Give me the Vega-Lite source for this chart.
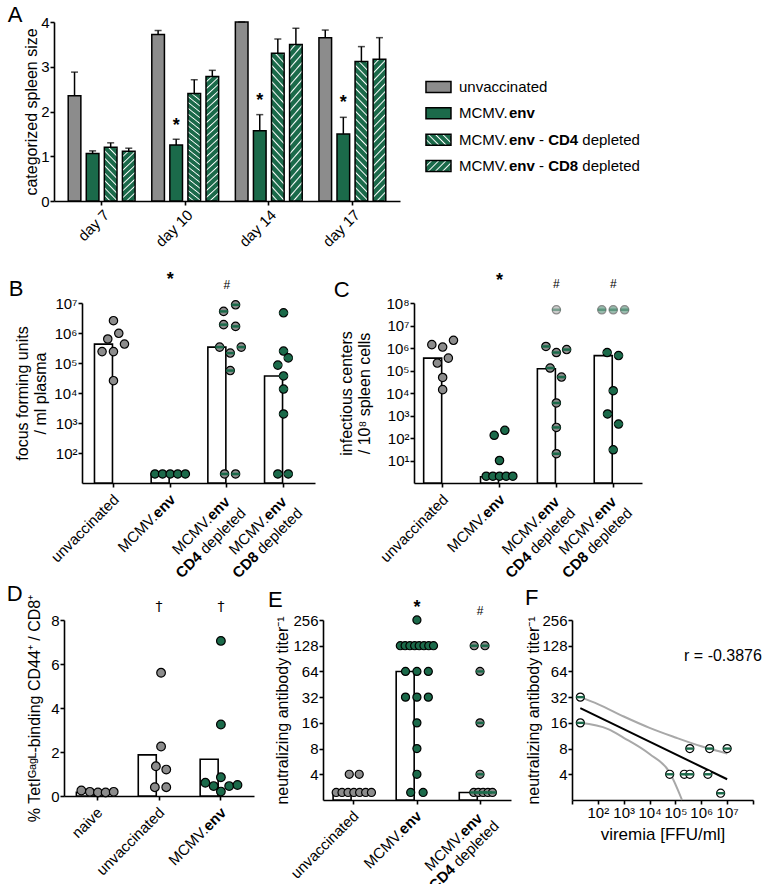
{
"$schema":"https://vega.github.io/schema/vega-lite/v6.json",
"background":"white",
"padding":{"left":0,"top":4,"right":0,"bottom":0},
"config":{"font":"Liberation Sans","view":{"stroke":null},
"axis":{"grid":false,"domainColor":"#000","domainWidth":1.6,"tickColor":"#000","tickWidth":1.6,"tickSize":4,"labelFontSize":15,"labelColor":"#000","titleFontSize":16,"titleFontWeight":"normal","titleColor":"#000","labelFont":"Liberation Sans","titleFont":"Liberation Sans","labelPadding":1,"titlePadding":6},
"title":{"fontSize":22,"fontWeight":"normal","anchor":"start","font":"Liberation Sans","color":"#000","frame":"bounds","offset":-4},
"text":{"font":"Liberation Sans","color":"#000"},
"point":{"opacity":1}},
"datasets":{
"spacer":[{"k":1}],
"aBars":[
{"day":"day 7","grp":"unvaccinated","m":2.35,"hi":2.88},{"day":"day 7","grp":"MCMV.env","m":1.06,"hi":1.12},{"day":"day 7","grp":"CD4","m":1.2,"hi":1.3},{"day":"day 7","grp":"CD8","m":1.11,"hi":1.18},
{"day":"day 10","grp":"unvaccinated","m":3.72,"hi":3.81},{"day":"day 10","grp":"MCMV.env","m":1.25,"hi":1.38},{"day":"day 10","grp":"CD4","m":2.4,"hi":2.71},{"day":"day 10","grp":"CD8","m":2.78,"hi":2.92},
{"day":"day 14","grp":"unvaccinated","m":4.0,"hi":4.0},{"day":"day 14","grp":"MCMV.env","m":1.57,"hi":1.93},{"day":"day 14","grp":"CD4","m":3.3,"hi":3.62},{"day":"day 14","grp":"CD8","m":3.5,"hi":3.86},
{"day":"day 17","grp":"unvaccinated","m":3.65,"hi":3.82},{"day":"day 17","grp":"MCMV.env","m":1.5,"hi":1.87},{"day":"day 17","grp":"CD4","m":3.12,"hi":3.45},{"day":"day 17","grp":"CD8","m":3.17,"hi":3.65}],
"aSig":[{"day":"day 10","grp":"MCMV.env","v":1.68,"t":"*"},{"day":"day 14","grp":"MCMV.env","v":2.24,"t":"*"},{"day":"day 17","grp":"MCMV.env","v":2.19,"t":"*"}],
"aLeg":[{"item":"unvaccinated","s1":"unvaccinated","s2":"","s3":"","s4":"","s5":""},{"item":"MCMV.env","s1":"MCMV.","s2":"env","s3":"","s4":"","s5":""},{"item":"CD4","s1":"MCMV.","s2":"env","s3":"-","s4":"CD4","s5":"depleted"},{"item":"CD8","s1":"MCMV.","s2":"env","s3":"-","s4":"CD8","s5":"depleted"}],
"bBars":[{"g":"unvaccinated","v":427000},{"g":"MCMV.env","v":20},{"g":"CD4","v":339000},{"g":"CD8","v":37000}],
"bDots":[
{"g":"unvaccinated","v":2570000,"j":0},{"g":"unvaccinated","v":631000,"j":-0.3},{"g":"unvaccinated","v":977000,"j":0.28},{"g":"unvaccinated","v":427000,"j":0.58},{"g":"unvaccinated","v":240000,"j":-0.6},{"g":"unvaccinated","v":240000,"j":0},{"g":"unvaccinated","v":25700,"j":0},
{"g":"MCMV.env","v":20,"j":-0.8},{"g":"MCMV.env","v":20,"j":-0.4},{"g":"MCMV.env","v":20,"j":0},{"g":"MCMV.env","v":20,"j":0.4},{"g":"MCMV.env","v":20,"j":0.8},
{"g":"CD4","v":8700000,"j":0.46},{"g":"CD4","v":5250000,"j":-0.17},{"g":"CD4","v":1900000,"j":-0.17},{"g":"CD4","v":1660000,"j":0.46},{"g":"CD4","v":339000,"j":-0.38},{"g":"CD4","v":214000,"j":0.18},{"g":"CD4","v":339000,"j":0.76},{"g":"CD4","v":56000,"j":0.18},{"g":"CD4","v":20,"j":-0.12},{"g":"CD4","v":20,"j":0.46},
{"g":"CD8","v":4700000,"j":0},{"g":"CD8","v":250000,"j":0},{"g":"CD8","v":148000,"j":0.25},{"g":"CD8","v":85000,"j":-0.3},{"g":"CD8","v":37000,"j":0},{"g":"CD8","v":13500,"j":0},{"g":"CD8","v":2000,"j":0},{"g":"CD8","v":20,"j":-0.3},{"g":"CD8","v":20,"j":0.25}],
"bSig":[{"g":"MCMV.env","v":59000000,"t":"*"},{"g":"CD4","v":41000000,"t":"#"}],
"labB":[{"g":"unvaccinated","l1r":"unvaccinated","l1b":"","l2b":"","l2r":""},{"g":"MCMV.env","l1r":"MCMV.","l1b":"env","l2b":"","l2r":""},{"g":"CD4","l1r":"MCMV.","l1b":"env","l2b":"CD4","l2r":"depleted"},{"g":"CD8","l1r":"MCMV.","l1b":"env","l2b":"CD8","l2r":"depleted"}],
"cBars":[{"g":"unvaccinated","v":355000},{"g":"MCMV.env","v":1.9},{"g":"CD4","v":120000},{"g":"CD8","v":460000}],
"cDots":[
{"g":"unvaccinated","v":1410000,"j":-0.57},{"g":"unvaccinated","v":1100000,"j":0},{"g":"unvaccinated","v":2190000,"j":0.57},{"g":"unvaccinated","v":214000,"j":-0.28},{"g":"unvaccinated","v":355000,"j":0.3},{"g":"unvaccinated","v":49000,"j":0},{"g":"unvaccinated","v":14100,"j":0},
{"g":"MCMV.env","v":132,"j":-0.28},{"g":"MCMV.env","v":219,"j":0.28},{"g":"MCMV.env","v":10,"j":0},{"g":"MCMV.env","v":2,"j":-0.7},{"g":"MCMV.env","v":2,"j":-0.35},{"g":"MCMV.env","v":2,"j":0},{"g":"MCMV.env","v":2,"j":0.35},{"g":"MCMV.env","v":2,"j":0.7},
{"g":"CD4","v":50000000,"j":0},{"g":"CD4","v":1170000,"j":-0.55},{"g":"CD4","v":630000,"j":0},{"g":"CD4","v":850000,"j":0.54},{"g":"CD4","v":129000,"j":-0.33},{"g":"CD4","v":51000,"j":0.27},{"g":"CD4","v":3600,"j":0},{"g":"CD4","v":295,"j":0},{"g":"CD4","v":20,"j":0},
{"g":"CD8","v":50000000,"j":-0.6},{"g":"CD8","v":50000000,"j":0},{"g":"CD8","v":50000000,"j":0.6},{"g":"CD8","v":630000,"j":-0.32},{"g":"CD8","v":460000,"j":0.28},{"g":"CD8","v":12600,"j":0},{"g":"CD8","v":1170,"j":-0.3},{"g":"CD8","v":417,"j":0.28},{"g":"CD8","v":30,"j":0}],
"cSig":[{"g":"MCMV.env","v":910000000,"t":"*"},{"g":"CD4","v":690000000,"t":"#"},{"g":"CD8","v":690000000,"t":"#"}],
"dBars":[{"g":"naive","v":0.17},{"g":"unvaccinated","v":1.87},{"g":"MCMV.env","v":1.67}],
"dDots":[
{"g":"naive","v":0.25,"j":-0.76},{"g":"naive","v":0.19,"j":-0.35},{"g":"naive","v":0.16,"j":0.04},{"g":"naive","v":0.16,"j":0.41},{"g":"naive","v":0.19,"j":0.8},
{"g":"unvaccinated","v":5.6,"j":0.1},{"g":"unvaccinated","v":2.25,"j":0.1},{"g":"unvaccinated","v":1.35,"j":-0.15},{"g":"unvaccinated","v":1.2,"j":0.35},{"g":"unvaccinated","v":0.4,"j":-0.2},{"g":"unvaccinated","v":0.4,"j":0.35},
{"g":"MCMV.env","v":7.05,"j":0},{"g":"MCMV.env","v":3.25,"j":0},{"g":"MCMV.env","v":0.85,"j":0},{"g":"MCMV.env","v":0.6,"j":-0.75},{"g":"MCMV.env","v":0.45,"j":-0.35},{"g":"MCMV.env","v":0.2,"j":0},{"g":"MCMV.env","v":0.45,"j":0.4},{"g":"MCMV.env","v":0.5,"j":0.8}],
"dSig":[{"g":"unvaccinated","v":8.6,"t":"†"},{"g":"MCMV.env","v":8.6,"t":"†"}],
"labD":[{"g":"naive","l1r":"naive","l1b":""},{"g":"unvaccinated","l1r":"unvaccinated","l1b":""},{"g":"MCMV.env","l1r":"MCMV.","l1b":"env"}],
"eBars":[{"g":"unvaccinated","v":2.45},{"g":"MCMV.env","v":64},{"g":"CD4","v":2.45}],
"eDots":[
{"g":"unvaccinated","v":4,"j":-0.22},{"g":"unvaccinated","v":4,"j":0.26},{"g":"unvaccinated","v":2.45,"j":-0.85},{"g":"unvaccinated","v":2.45,"j":-0.57},{"g":"unvaccinated","v":2.45,"j":-0.28},{"g":"unvaccinated","v":2.45,"j":0},{"g":"unvaccinated","v":2.45,"j":0.28},{"g":"unvaccinated","v":2.45,"j":0.57},{"g":"unvaccinated","v":2.45,"j":0.85},
{"g":"MCMV.env","v":256,"j":0},{"g":"MCMV.env","v":128,"j":-0.8},{"g":"MCMV.env","v":128,"j":-0.57},{"g":"MCMV.env","v":128,"j":-0.34},{"g":"MCMV.env","v":128,"j":-0.11},{"g":"MCMV.env","v":128,"j":0.11},{"g":"MCMV.env","v":128,"j":0.34},{"g":"MCMV.env","v":128,"j":0.57},{"g":"MCMV.env","v":128,"j":0.8},
{"g":"MCMV.env","v":64,"j":-0.55},{"g":"MCMV.env","v":64,"j":0},{"g":"MCMV.env","v":64,"j":0.55},{"g":"MCMV.env","v":32,"j":-0.55},{"g":"MCMV.env","v":32,"j":0},{"g":"MCMV.env","v":32,"j":0.55},{"g":"MCMV.env","v":16,"j":0},{"g":"MCMV.env","v":8,"j":0},{"g":"MCMV.env","v":4,"j":0},{"g":"MCMV.env","v":2.45,"j":-0.3},{"g":"MCMV.env","v":2.45,"j":0.3},
{"g":"CD4","v":128,"j":-0.28},{"g":"CD4","v":128,"j":0.24},{"g":"CD4","v":64,"j":0},{"g":"CD4","v":16,"j":0},{"g":"CD4","v":4,"j":0},{"g":"CD4","v":2.45,"j":-0.3},{"g":"CD4","v":2.45,"j":-0.08},{"g":"CD4","v":2.45,"j":0.15},{"g":"CD4","v":2.45,"j":0.38},{"g":"CD4","v":2.45,"j":0.6}],
"eSig":[{"g":"MCMV.env","v":357,"t":"*"},{"g":"CD4","v":322,"t":"#"}],
"labE":[{"g":"unvaccinated","l1r":"unvaccinated","l1b":"","l2b":"","l2r":""},{"g":"MCMV.env","l1r":"MCMV.","l1b":"env","l2b":"","l2r":""},{"g":"CD4","l1r":"MCMV.","l1b":"env","l2b":"CD4","l2r":"depleted"}],
"fDots":[{"x":21,"y":32},{"x":21,"y":16},{"x":360000,"y":8},{"x":2100000,"y":8},{"x":10000000,"y":8},{"x":60000,"y":4},{"x":220000,"y":4},{"x":360000,"y":4},{"x":1800000,"y":4},{"x":5600000,"y":2.4}],
"fFit":[
{"s":"fit","x":21,"y":23.8},{"s":"fit","x":10000000,"y":3.5},
{"s":"upper","x":21,"y":32},{"s":"upper","x":100,"y":26.5},{"s":"upper","x":1000,"y":19},{"s":"upper","x":10000,"y":14},{"s":"upper","x":100000,"y":10.8},{"s":"upper","x":1000000,"y":8.5},{"s":"upper","x":10000000,"y":7},
{"s":"lower","x":21,"y":16},{"s":"lower","x":250,"y":13.5},{"s":"lower","x":1000,"y":10.7},{"s":"lower","x":10000,"y":6.9},{"s":"lower","x":60000,"y":4.2},{"s":"lower","x":180000,"y":2}],
"fR":[{"x":6900000,"y":97,"t":"r = -0.3876"}]
},
"spacing":1,
"vconcat":[
{"spacing":20,"vconcat":[
{"spacing":0,"hconcat":[
{"width":4,"height":10,"data":{"name":"spacer"},"mark":{"type":"point","opacity":0},"encoding":{}},
{"spacing":22,"hconcat":[
{"width":346,"height":179,"title":{"text":"A","dx":-16,"offset":-12},
"layer":[
{"data":{"name":"aBars"},"transform":[{"filter":"datum.grp == 'unvaccinated' || datum.grp == 'MCMV.env'"}],
"mark":{"type":"bar","stroke":"#000","strokeWidth":1.5},
"encoding":{"x":{"field":"day","type":"nominal","scale":{"domain":["day 7","day 10","day 14","day 17"],"paddingInner":0.2,"paddingOuter":0.17},"axis":{"title":null,"labelAngle":-45,"labelPadding":2}},
"xOffset":{"field":"grp","type":"nominal","scale":{"domain":["unvaccinated","MCMV.env","CD4","CD8"],"paddingInner":0.3,"paddingOuter":0}},
"y":{"field":"m","type":"quantitative","scale":{"domain":[0,4],"nice":false},"axis":{"values":[0,1,2,3,4],"title":"categorized spleen size","titlePadding":1}},
"fill":{"field":"grp","type":"nominal","scale":{"domain":["unvaccinated","MCMV.env"],"range":["#8c8c8c","#1b6a4a"]},"legend":null}}},
{"data":{"name":"aBars"},"transform":[{"filter":"datum.grp == 'CD4' && datum.day != 'day 7'"}],
"mark":{"type":"bar","stroke":"#000","strokeWidth":1.5,"fill":{"gradient":"linear","x1":0,"y1":1,"x2":0.1016,"y2":-0.0842,"stops":[{"offset":0,"color":"#1b6a4a"},{"offset":0.031,"color":"#1b6a4a"},{"offset":0.04,"color":"#fff"},{"offset":0.05,"color":"#1b6a4a"},{"offset":0.081,"color":"#1b6a4a"},{"offset":0.09,"color":"#fff"},{"offset":0.1,"color":"#1b6a4a"},{"offset":0.131,"color":"#1b6a4a"},{"offset":0.14,"color":"#fff"},{"offset":0.15,"color":"#1b6a4a"},{"offset":0.181,"color":"#1b6a4a"},{"offset":0.19,"color":"#fff"},{"offset":0.2,"color":"#1b6a4a"},{"offset":0.231,"color":"#1b6a4a"},{"offset":0.24,"color":"#fff"},{"offset":0.25,"color":"#1b6a4a"},{"offset":0.281,"color":"#1b6a4a"},{"offset":0.29,"color":"#fff"},{"offset":0.3,"color":"#1b6a4a"},{"offset":0.331,"color":"#1b6a4a"},{"offset":0.34,"color":"#fff"},{"offset":0.35,"color":"#1b6a4a"},{"offset":0.381,"color":"#1b6a4a"},{"offset":0.39,"color":"#fff"},{"offset":0.4,"color":"#1b6a4a"},{"offset":0.431,"color":"#1b6a4a"},{"offset":0.44,"color":"#fff"},{"offset":0.45,"color":"#1b6a4a"},{"offset":0.481,"color":"#1b6a4a"},{"offset":0.49,"color":"#fff"},{"offset":0.5,"color":"#1b6a4a"},{"offset":0.531,"color":"#1b6a4a"},{"offset":0.54,"color":"#fff"},{"offset":0.55,"color":"#1b6a4a"},{"offset":0.581,"color":"#1b6a4a"},{"offset":0.59,"color":"#fff"},{"offset":0.6,"color":"#1b6a4a"},{"offset":0.631,"color":"#1b6a4a"},{"offset":0.64,"color":"#fff"},{"offset":0.65,"color":"#1b6a4a"},{"offset":0.681,"color":"#1b6a4a"},{"offset":0.69,"color":"#fff"},{"offset":0.7,"color":"#1b6a4a"},{"offset":0.731,"color":"#1b6a4a"},{"offset":0.74,"color":"#fff"},{"offset":0.75,"color":"#1b6a4a"},{"offset":0.781,"color":"#1b6a4a"},{"offset":0.79,"color":"#fff"},{"offset":0.8,"color":"#1b6a4a"},{"offset":0.831,"color":"#1b6a4a"},{"offset":0.84,"color":"#fff"},{"offset":0.85,"color":"#1b6a4a"},{"offset":0.881,"color":"#1b6a4a"},{"offset":0.89,"color":"#fff"},{"offset":0.9,"color":"#1b6a4a"},{"offset":0.931,"color":"#1b6a4a"},{"offset":0.94,"color":"#fff"},{"offset":0.95,"color":"#1b6a4a"},{"offset":0.981,"color":"#1b6a4a"},{"offset":0.99,"color":"#fff"},{"offset":1,"color":"#1b6a4a"}]}},
"encoding":{"x":{"field":"day","type":"nominal"},"xOffset":{"field":"grp","type":"nominal"},"y":{"field":"m","type":"quantitative"}}},
{"data":{"name":"aBars"},"transform":[{"filter":"datum.grp == 'CD4' && datum.day == 'day 7'"}],
"mark":{"type":"bar","stroke":"#000","strokeWidth":1.5,"fill":{"gradient":"linear","x1":0,"y1":1,"x2":0.2855,"y2":-0.1738,"stops":[{"offset":0,"color":"#1b6a4a"},{"offset":0.069,"color":"#1b6a4a"},{"offset":0.089,"color":"#fff"},{"offset":0.111,"color":"#1b6a4a"},{"offset":0.18,"color":"#1b6a4a"},{"offset":0.2,"color":"#fff"},{"offset":0.222,"color":"#1b6a4a"},{"offset":0.291,"color":"#1b6a4a"},{"offset":0.311,"color":"#fff"},{"offset":0.333,"color":"#1b6a4a"},{"offset":0.402,"color":"#1b6a4a"},{"offset":0.422,"color":"#fff"},{"offset":0.444,"color":"#1b6a4a"},{"offset":0.513,"color":"#1b6a4a"},{"offset":0.533,"color":"#fff"},{"offset":0.556,"color":"#1b6a4a"},{"offset":0.624,"color":"#1b6a4a"},{"offset":0.644,"color":"#fff"},{"offset":0.667,"color":"#1b6a4a"},{"offset":0.736,"color":"#1b6a4a"},{"offset":0.756,"color":"#fff"},{"offset":0.778,"color":"#1b6a4a"},{"offset":0.847,"color":"#1b6a4a"},{"offset":0.867,"color":"#fff"},{"offset":0.889,"color":"#1b6a4a"},{"offset":0.958,"color":"#1b6a4a"},{"offset":0.978,"color":"#fff"},{"offset":1,"color":"#1b6a4a"}]}},
"encoding":{"x":{"field":"day","type":"nominal"},"xOffset":{"field":"grp","type":"nominal"},"y":{"field":"m","type":"quantitative"}}},
{"data":{"name":"aBars"},"transform":[{"filter":"datum.grp == 'CD8' && datum.day != 'day 7'"}],
"mark":{"type":"bar","stroke":"#000","strokeWidth":1.5,"fill":{"gradient":"linear","x1":0,"y1":0,"x2":0.1016,"y2":1.0842,"stops":[{"offset":0,"color":"#1b6a4a"},{"offset":0.031,"color":"#1b6a4a"},{"offset":0.04,"color":"#fff"},{"offset":0.05,"color":"#1b6a4a"},{"offset":0.081,"color":"#1b6a4a"},{"offset":0.09,"color":"#fff"},{"offset":0.1,"color":"#1b6a4a"},{"offset":0.131,"color":"#1b6a4a"},{"offset":0.14,"color":"#fff"},{"offset":0.15,"color":"#1b6a4a"},{"offset":0.181,"color":"#1b6a4a"},{"offset":0.19,"color":"#fff"},{"offset":0.2,"color":"#1b6a4a"},{"offset":0.231,"color":"#1b6a4a"},{"offset":0.24,"color":"#fff"},{"offset":0.25,"color":"#1b6a4a"},{"offset":0.281,"color":"#1b6a4a"},{"offset":0.29,"color":"#fff"},{"offset":0.3,"color":"#1b6a4a"},{"offset":0.331,"color":"#1b6a4a"},{"offset":0.34,"color":"#fff"},{"offset":0.35,"color":"#1b6a4a"},{"offset":0.381,"color":"#1b6a4a"},{"offset":0.39,"color":"#fff"},{"offset":0.4,"color":"#1b6a4a"},{"offset":0.431,"color":"#1b6a4a"},{"offset":0.44,"color":"#fff"},{"offset":0.45,"color":"#1b6a4a"},{"offset":0.481,"color":"#1b6a4a"},{"offset":0.49,"color":"#fff"},{"offset":0.5,"color":"#1b6a4a"},{"offset":0.531,"color":"#1b6a4a"},{"offset":0.54,"color":"#fff"},{"offset":0.55,"color":"#1b6a4a"},{"offset":0.581,"color":"#1b6a4a"},{"offset":0.59,"color":"#fff"},{"offset":0.6,"color":"#1b6a4a"},{"offset":0.631,"color":"#1b6a4a"},{"offset":0.64,"color":"#fff"},{"offset":0.65,"color":"#1b6a4a"},{"offset":0.681,"color":"#1b6a4a"},{"offset":0.69,"color":"#fff"},{"offset":0.7,"color":"#1b6a4a"},{"offset":0.731,"color":"#1b6a4a"},{"offset":0.74,"color":"#fff"},{"offset":0.75,"color":"#1b6a4a"},{"offset":0.781,"color":"#1b6a4a"},{"offset":0.79,"color":"#fff"},{"offset":0.8,"color":"#1b6a4a"},{"offset":0.831,"color":"#1b6a4a"},{"offset":0.84,"color":"#fff"},{"offset":0.85,"color":"#1b6a4a"},{"offset":0.881,"color":"#1b6a4a"},{"offset":0.89,"color":"#fff"},{"offset":0.9,"color":"#1b6a4a"},{"offset":0.931,"color":"#1b6a4a"},{"offset":0.94,"color":"#fff"},{"offset":0.95,"color":"#1b6a4a"},{"offset":0.981,"color":"#1b6a4a"},{"offset":0.99,"color":"#fff"},{"offset":1,"color":"#1b6a4a"}]}},
"encoding":{"x":{"field":"day","type":"nominal"},"xOffset":{"field":"grp","type":"nominal"},"y":{"field":"m","type":"quantitative"}}},
{"data":{"name":"aBars"},"transform":[{"filter":"datum.grp == 'CD8' && datum.day == 'day 7'"}],
"mark":{"type":"bar","stroke":"#000","strokeWidth":1.5,"fill":{"gradient":"linear","x1":0,"y1":0,"x2":0.2855,"y2":1.1738,"stops":[{"offset":0,"color":"#1b6a4a"},{"offset":0.069,"color":"#1b6a4a"},{"offset":0.089,"color":"#fff"},{"offset":0.111,"color":"#1b6a4a"},{"offset":0.18,"color":"#1b6a4a"},{"offset":0.2,"color":"#fff"},{"offset":0.222,"color":"#1b6a4a"},{"offset":0.291,"color":"#1b6a4a"},{"offset":0.311,"color":"#fff"},{"offset":0.333,"color":"#1b6a4a"},{"offset":0.402,"color":"#1b6a4a"},{"offset":0.422,"color":"#fff"},{"offset":0.444,"color":"#1b6a4a"},{"offset":0.513,"color":"#1b6a4a"},{"offset":0.533,"color":"#fff"},{"offset":0.556,"color":"#1b6a4a"},{"offset":0.624,"color":"#1b6a4a"},{"offset":0.644,"color":"#fff"},{"offset":0.667,"color":"#1b6a4a"},{"offset":0.736,"color":"#1b6a4a"},{"offset":0.756,"color":"#fff"},{"offset":0.778,"color":"#1b6a4a"},{"offset":0.847,"color":"#1b6a4a"},{"offset":0.867,"color":"#fff"},{"offset":0.889,"color":"#1b6a4a"},{"offset":0.958,"color":"#1b6a4a"},{"offset":0.978,"color":"#fff"},{"offset":1,"color":"#1b6a4a"}]}},
"encoding":{"x":{"field":"day","type":"nominal"},"xOffset":{"field":"grp","type":"nominal"},"y":{"field":"m","type":"quantitative"}}},
{"data":{"name":"aBars"},"mark":{"type":"rule","strokeWidth":1.5,"color":"#000"},
"encoding":{"x":{"field":"day","type":"nominal"},"xOffset":{"field":"grp","type":"nominal"},"y":{"field":"m","type":"quantitative"},"y2":{"field":"hi"}}},
{"data":{"name":"aBars"},"mark":{"type":"tick","orient":"horizontal","size":7,"thickness":1.5,"color":"#000"},
"encoding":{"x":{"field":"day","type":"nominal"},"xOffset":{"field":"grp","type":"nominal"},"y":{"field":"hi","type":"quantitative"}}},
{"data":{"name":"aSig"},"mark":{"type":"text","fontSize":18,"fontWeight":"bold","baseline":"middle"},
"encoding":{"x":{"field":"day","type":"nominal"},"xOffset":{"field":"grp","type":"nominal"},"y":{"field":"v","type":"quantitative"},"text":{"field":"t"}}}
]},
{"width":240,"height":179,
"layer":[
{"data":{"name":"aLeg"},"transform":[{"filter":"datum.item == 'unvaccinated' || datum.item == 'MCMV.env'"}],
"mark":{"type":"point","shape":"M-1,-0.44L1,-0.44L1,0.44L-1,0.44Z","size":625,"filled":true,"opacity":1,"stroke":"#000","strokeWidth":1.5},
"encoding":{"x":{"datum":0.052,"type":"quantitative","scale":{"domain":[0,1]},"axis":null},
"y":{"field":"item","type":"nominal","scale":{"type":"point","domain":["unvaccinated","MCMV.env","CD4","CD8"],"range":[65,144],"padding":0},"axis":null},
"fill":{"field":"item","type":"nominal","scale":{"domain":["unvaccinated","MCMV.env"],"range":["#8c8c8c","#1b6a4a"]},"legend":null}}},
{"data":{"name":"aLeg"},"transform":[{"filter":"datum.item == 'CD4'"}],
"mark":{"type":"point","shape":"M-1,-0.44L1,-0.44L1,0.44L-1,0.44Z","size":625,"filled":true,"opacity":1,"stroke":"#000","strokeWidth":1.5,"fill":{"gradient":"linear","x1":0,"y1":1,"x2":1.2064,"y2":0.4692,"stops":[{"offset":0,"color":"#1b6a4a"},{"offset":0.124,"color":"#1b6a4a"},{"offset":0.16,"color":"#fff"},{"offset":0.2,"color":"#1b6a4a"},{"offset":0.324,"color":"#1b6a4a"},{"offset":0.36,"color":"#fff"},{"offset":0.4,"color":"#1b6a4a"},{"offset":0.524,"color":"#1b6a4a"},{"offset":0.56,"color":"#fff"},{"offset":0.6,"color":"#1b6a4a"},{"offset":0.724,"color":"#1b6a4a"},{"offset":0.76,"color":"#fff"},{"offset":0.8,"color":"#1b6a4a"},{"offset":0.924,"color":"#1b6a4a"},{"offset":0.96,"color":"#fff"},{"offset":1,"color":"#1b6a4a"}]}},
"encoding":{"x":{"datum":0.052,"type":"quantitative"},"y":{"field":"item","type":"nominal"}}},
{"data":{"name":"aLeg"},"transform":[{"filter":"datum.item == 'CD8'"}],
"mark":{"type":"point","shape":"M-1,-0.44L1,-0.44L1,0.44L-1,0.44Z","size":625,"filled":true,"opacity":1,"stroke":"#000","strokeWidth":1.5,"fill":{"gradient":"linear","x1":0,"y1":0,"x2":1.2064,"y2":0.5308,"stops":[{"offset":0,"color":"#1b6a4a"},{"offset":0.124,"color":"#1b6a4a"},{"offset":0.16,"color":"#fff"},{"offset":0.2,"color":"#1b6a4a"},{"offset":0.324,"color":"#1b6a4a"},{"offset":0.36,"color":"#fff"},{"offset":0.4,"color":"#1b6a4a"},{"offset":0.524,"color":"#1b6a4a"},{"offset":0.56,"color":"#fff"},{"offset":0.6,"color":"#1b6a4a"},{"offset":0.724,"color":"#1b6a4a"},{"offset":0.76,"color":"#fff"},{"offset":0.8,"color":"#1b6a4a"},{"offset":0.924,"color":"#1b6a4a"},{"offset":0.96,"color":"#fff"},{"offset":1,"color":"#1b6a4a"}]}},
"encoding":{"x":{"datum":0.052,"type":"quantitative"},"y":{"field":"item","type":"nominal"}}},
{"data":{"name":"aLeg"},"mark":{"type":"text","align":"left","baseline":"middle","fontSize":15,"dx":0},"encoding":{"x":{"datum":0.1375,"type":"quantitative"},"y":{"field":"item","type":"nominal"},"text":{"field":"s1"}}},
{"data":{"name":"aLeg"},"mark":{"type":"text","align":"left","baseline":"middle","fontSize":15,"fontWeight":"bold","dx":50},"encoding":{"x":{"datum":0.1375,"type":"quantitative"},"y":{"field":"item","type":"nominal"},"text":{"field":"s2"}}},
{"data":{"name":"aLeg"},"mark":{"type":"text","align":"left","baseline":"middle","fontSize":15,"dx":80},"encoding":{"x":{"datum":0.1375,"type":"quantitative"},"y":{"field":"item","type":"nominal"},"text":{"field":"s3"}}},
{"data":{"name":"aLeg"},"mark":{"type":"text","align":"left","baseline":"middle","fontSize":15,"fontWeight":"bold","dx":89.2},"encoding":{"x":{"datum":0.1375,"type":"quantitative"},"y":{"field":"item","type":"nominal"},"text":{"field":"s4"}}},
{"data":{"name":"aLeg"},"mark":{"type":"text","align":"left","baseline":"middle","fontSize":15,"dx":123.3},"encoding":{"x":{"datum":0.1375,"type":"quantitative"},"y":{"field":"item","type":"nominal"},"text":{"field":"s5"}}}
]}
]}
]},
{"spacing":0,"hconcat":[
{"width":5,"height":10,"data":{"name":"spacer"},"mark":{"type":"point","opacity":0},"encoding":{}},
{"spacing":18,"hconcat":[
{"width":233,"height":180,"title":{"text":"B","dx":-6,"offset":-30},
"layer":[
{"data":{"name":"bBars"},"mark":{"type":"bar","fill":"#fff","stroke":"#000","strokeWidth":1.6},
"encoding":{"x":{"field":"g","type":"nominal","scale":{"domain":["unvaccinated","MCMV.env","CD4","CD8"],"paddingInner":0.33,"paddingOuter":0.22},"axis":{"labels":false,"title":null}},
"y":{"field":"v","type":"quantitative","scale":{"type":"log","domain":[10,10000000],"nice":false},"axis":{"values":[100,1000,10000,100000,1000000,10000000],"labelExpr":"'10' + ['⁰','¹','²','³','⁴','⁵','⁶','⁷','⁸'][round(log(datum.value)/LN10)]","title":["focus forming units","/ ml plasma"],"titlePadding":5}},
"y2":{"datum":10}}},
{"mark":{"type":"rule","strokeDash":[0.1,4.2],"strokeCap":"round","strokeWidth":2.6,"color":"#000"},"encoding":{"y":{"datum":230}}},
{"data":{"name":"bDots"},"mark":{"type":"point","shape":"circle","filled":true,"size":70,"opacity":1,"stroke":"#000","strokeWidth":1.2},
"encoding":{"x":{"field":"g","type":"nominal"},"xOffset":{"field":"j","type":"quantitative","scale":{"domain":[-1,1]}},"y":{"field":"v","type":"quantitative"},
"fill":{"field":"g","type":"nominal","scale":{"domain":["unvaccinated","MCMV.env","CD4","CD8"],"range":["#8c8c8c","#1b6a4a","#ffffff","#ffffff"]},"legend":null}}},
{"data":{"name":"bDots"},"transform":[{"filter":"datum.g == 'CD4' || datum.g == 'CD8'"}],"mark":{"type":"point","shape":"M-1,-0.3L1,-0.3L1,0.3L-1,0.3Z","filled":true,"size":70,"opacity":1,"color":"#1b6a4a","strokeWidth":0},
"encoding":{"x":{"field":"g","type":"nominal"},"xOffset":{"field":"j","type":"quantitative"},"y":{"field":"v","type":"quantitative"}}},
{"data":{"name":"bSig"},"transform":[{"filter":"datum.t == '*'"}],"mark":{"type":"text","fontSize":18,"fontWeight":"bold","baseline":"middle"},"encoding":{"x":{"field":"g","type":"nominal"},"y":{"field":"v","type":"quantitative"},"text":{"field":"t"}}},
{"data":{"name":"bSig"},"transform":[{"filter":"datum.t == '#'"}],"mark":{"type":"text","fontSize":12,"baseline":"middle"},"encoding":{"x":{"field":"g","type":"nominal"},"y":{"field":"v","type":"quantitative"},"text":{"field":"t"}}},
{"data":{"name":"labB"},"transform":[{"filter":"datum.l1b == ''"}],"mark":{"type":"text","angle":315,"align":"right","baseline":"top","fontSize":15,"dx":-8,"dy":5},"encoding":{"x":{"field":"g","type":"nominal"},"y":{"datum":10},"text":{"field":"l1r"}}},
{"data":{"name":"labB"},"transform":[{"filter":"datum.l1b != '' && datum.l2b == ''"}],"mark":{"type":"text","angle":315,"align":"right","baseline":"top","fontSize":15,"dx":-33.8,"dy":5},"encoding":{"x":{"field":"g","type":"nominal"},"y":{"datum":10},"text":{"field":"l1r"}}},
{"data":{"name":"labB"},"transform":[{"filter":"datum.l1b != '' && datum.l2b == ''"}],"mark":{"type":"text","angle":315,"align":"right","baseline":"top","fontSize":15,"fontWeight":"bold","dx":-8,"dy":5},"encoding":{"x":{"field":"g","type":"nominal"},"y":{"datum":10},"text":{"field":"l1b"}}},
{"data":{"name":"labB"},"transform":[{"filter":"datum.l2b != ''"}],"mark":{"type":"text","angle":315,"align":"right","baseline":"top","fontSize":15,"dx":-37,"dy":5},"encoding":{"x":{"field":"g","type":"nominal"},"y":{"datum":10},"text":{"field":"l1r"}}},
{"data":{"name":"labB"},"transform":[{"filter":"datum.l2b != ''"}],"mark":{"type":"text","angle":315,"align":"right","baseline":"top","fontSize":15,"fontWeight":"bold","dx":-11.2,"dy":5},"encoding":{"x":{"field":"g","type":"nominal"},"y":{"datum":10},"text":{"field":"l1b"}}},
{"data":{"name":"labB"},"transform":[{"filter":"datum.l2b != ''"}],"mark":{"type":"text","angle":315,"align":"right","baseline":"top","fontSize":15,"fontWeight":"bold","dx":-69.7,"dy":24},"encoding":{"x":{"field":"g","type":"nominal"},"y":{"datum":10},"text":{"field":"l2b"}}},
{"data":{"name":"labB"},"transform":[{"filter":"datum.l2b != ''"}],"mark":{"type":"text","angle":315,"align":"right","baseline":"top","fontSize":15,"dx":-8,"dy":24},"encoding":{"x":{"field":"g","type":"nominal"},"y":{"datum":10},"text":{"field":"l2r"}}}
]},
{"width":228,"height":180,"title":{"text":"C","dx":-5,"offset":-30},
"layer":[
{"data":{"name":"cBars"},"mark":{"type":"bar","fill":"#fff","stroke":"#000","strokeWidth":1.6},
"encoding":{"x":{"field":"g","type":"nominal","scale":{"domain":["unvaccinated","MCMV.env","CD4","CD8"],"paddingInner":0.33,"paddingOuter":0.17},"axis":{"labels":false,"title":null}},
"y":{"field":"v","type":"quantitative","scale":{"type":"log","domain":[1,100000000],"nice":false},"axis":{"values":[10,100,1000,10000,100000,1000000,10000000,100000000],"labelExpr":"'10' + ['⁰','¹','²','³','⁴','⁵','⁶','⁷','⁸'][round(log(datum.value)/LN10)]","title":["infectious centers","/ 10⁸ spleen cells"],"titlePadding":13}},
"y2":{"datum":1}}},
{"mark":{"type":"rule","strokeWidth":1.5,"color":"#9a9a9a"},"encoding":{"y":{"datum":10000000}}},
{"mark":{"type":"rule","strokeDash":[0.1,4.2],"strokeCap":"round","strokeWidth":2.6,"color":"#000"},"encoding":{"y":{"datum":10}}},
{"data":{"name":"cDots"},"mark":{"type":"point","shape":"circle","filled":true,"size":70,"stroke":"#000","strokeWidth":1.2},
"encoding":{"x":{"field":"g","type":"nominal"},"xOffset":{"field":"j","type":"quantitative","scale":{"domain":[-1,1]}},"y":{"field":"v","type":"quantitative"},
"fill":{"field":"g","type":"nominal","scale":{"domain":["unvaccinated","MCMV.env","CD4","CD8"],"range":["#8c8c8c","#1b6a4a","#ffffff","#ffffff"]},"legend":null},
"opacity":{"condition":{"test":"datum.v > 10000000","value":0.45},"value":1}}},
{"data":{"name":"cDots"},"transform":[{"filter":"datum.g == 'CD4' || datum.g == 'CD8'"}],"mark":{"type":"point","shape":"M-1,-0.3L1,-0.3L1,0.3L-1,0.3Z","filled":true,"size":70,"color":"#1b6a4a","strokeWidth":0},
"encoding":{"x":{"field":"g","type":"nominal"},"xOffset":{"field":"j","type":"quantitative"},"y":{"field":"v","type":"quantitative"},"opacity":{"condition":{"test":"datum.v > 10000000","value":0.45},"value":1}}},
{"data":{"name":"cSig"},"transform":[{"filter":"datum.t == '*'"}],"mark":{"type":"text","fontSize":18,"fontWeight":"bold","baseline":"middle"},"encoding":{"x":{"field":"g","type":"nominal"},"y":{"field":"v","type":"quantitative"},"text":{"field":"t"}}},
{"data":{"name":"cSig"},"transform":[{"filter":"datum.t == '#'"}],"mark":{"type":"text","fontSize":12,"baseline":"middle"},"encoding":{"x":{"field":"g","type":"nominal"},"y":{"field":"v","type":"quantitative"},"text":{"field":"t"}}},
{"data":{"name":"labB"},"transform":[{"filter":"datum.l1b == ''"}],"mark":{"type":"text","angle":315,"align":"right","baseline":"top","fontSize":15,"dx":-8,"dy":5},"encoding":{"x":{"field":"g","type":"nominal"},"y":{"datum":1},"text":{"field":"l1r"}}},
{"data":{"name":"labB"},"transform":[{"filter":"datum.l1b != '' && datum.l2b == ''"}],"mark":{"type":"text","angle":315,"align":"right","baseline":"top","fontSize":15,"dx":-33.8,"dy":5},"encoding":{"x":{"field":"g","type":"nominal"},"y":{"datum":1},"text":{"field":"l1r"}}},
{"data":{"name":"labB"},"transform":[{"filter":"datum.l1b != '' && datum.l2b == ''"}],"mark":{"type":"text","angle":315,"align":"right","baseline":"top","fontSize":15,"fontWeight":"bold","dx":-8,"dy":5},"encoding":{"x":{"field":"g","type":"nominal"},"y":{"datum":1},"text":{"field":"l1b"}}},
{"data":{"name":"labB"},"transform":[{"filter":"datum.l2b != ''"}],"mark":{"type":"text","angle":315,"align":"right","baseline":"top","fontSize":15,"dx":-37,"dy":5},"encoding":{"x":{"field":"g","type":"nominal"},"y":{"datum":1},"text":{"field":"l1r"}}},
{"data":{"name":"labB"},"transform":[{"filter":"datum.l2b != ''"}],"mark":{"type":"text","angle":315,"align":"right","baseline":"top","fontSize":15,"fontWeight":"bold","dx":-11.2,"dy":5},"encoding":{"x":{"field":"g","type":"nominal"},"y":{"datum":1},"text":{"field":"l1b"}}},
{"data":{"name":"labB"},"transform":[{"filter":"datum.l2b != ''"}],"mark":{"type":"text","angle":315,"align":"right","baseline":"top","fontSize":15,"fontWeight":"bold","dx":-69.7,"dy":24},"encoding":{"x":{"field":"g","type":"nominal"},"y":{"datum":1},"text":{"field":"l2b"}}},
{"data":{"name":"labB"},"transform":[{"filter":"datum.l2b != ''"}],"mark":{"type":"text","angle":315,"align":"right","baseline":"top","fontSize":15,"dx":-8,"dy":24},"encoding":{"x":{"field":"g","type":"nominal"},"y":{"datum":1},"text":{"field":"l2r"}}}
]}
]}
]}
]},
{"spacing":0,"hconcat":[
{"width":2,"height":10,"data":{"name":"spacer"},"mark":{"type":"point","opacity":0},"encoding":{}},
{"spacing":13,"hconcat":[
{"width":190,"height":176,"title":{"text":"D","dx":-20,"offset":-12},
"layer":[
{"data":{"name":"dBars"},"mark":{"type":"bar","fill":"#fff","stroke":"#000","strokeWidth":1.6},
"encoding":{"x":{"field":"g","type":"nominal","scale":{"domain":["naive","unvaccinated","MCMV.env"],"paddingInner":0.33,"paddingOuter":0.2},"axis":{"labels":false,"title":null}},
"y":{"field":"v","type":"quantitative","scale":{"domain":[0,8],"nice":false},"axis":{"values":[0,2,4,6,8],"title":"% TetIᴳᵃᵍᴸ-binding CD44⁺ / CD8⁺","titlePadding":8}}}},
{"data":{"name":"dDots"},"mark":{"type":"point","shape":"circle","filled":true,"size":75,"opacity":1,"stroke":"#000","strokeWidth":1.2},
"encoding":{"x":{"field":"g","type":"nominal"},"xOffset":{"field":"j","type":"quantitative","scale":{"domain":[-1,1]}},"y":{"field":"v","type":"quantitative"},
"fill":{"field":"g","type":"nominal","scale":{"domain":["naive","unvaccinated","MCMV.env"],"range":["#ffffff","#8c8c8c","#1b6a4a"]},"legend":null}}},
{"data":{"name":"dSig"},"mark":{"type":"text","fontSize":14,"baseline":"middle","font":"DejaVu Sans","color":"#000"},"encoding":{"x":{"field":"g","type":"nominal"},"y":{"field":"v","type":"quantitative"},"text":{"field":"t"}}},
{"data":{"name":"labD"},"transform":[{"filter":"datum.l1b == ''"}],"mark":{"type":"text","angle":315,"align":"right","baseline":"top","fontSize":15,"dx":-8,"dy":5},"encoding":{"x":{"field":"g","type":"nominal"},"y":{"datum":0},"text":{"field":"l1r"}}},
{"data":{"name":"labD"},"transform":[{"filter":"datum.l1b != ''"}],"mark":{"type":"text","angle":315,"align":"right","baseline":"top","fontSize":15,"dx":-33.8,"dy":5},"encoding":{"x":{"field":"g","type":"nominal"},"y":{"datum":0},"text":{"field":"l1r"}}},
{"data":{"name":"labD"},"transform":[{"filter":"datum.l1b != ''"}],"mark":{"type":"text","angle":315,"align":"right","baseline":"top","fontSize":15,"fontWeight":"bold","dx":-8,"dy":5},"encoding":{"x":{"field":"g","type":"nominal"},"y":{"datum":0},"text":{"field":"l1b"}}}
]},
{"width":188,"height":180,"title":{"text":"E","dx":-7,"offset":-13},
"layer":[
{"data":{"name":"eBars"},"mark":{"type":"bar","fill":"#fff","stroke":"#000","strokeWidth":1.6},
"encoding":{"x":{"field":"g","type":"nominal","scale":{"domain":["unvaccinated","MCMV.env","CD4"],"paddingInner":0.34,"paddingOuter":0.16},"axis":{"labels":false,"title":null}},
"y":{"field":"v","type":"quantitative","scale":{"type":"log","base":2,"domain":[2,256],"nice":false},"axis":{"values":[4,8,16,32,64,128,256],"format":"d","title":"neutralizing antibody titer⁻¹","titlePadding":2}},
"y2":{"datum":2}}},
{"mark":{"type":"rule","strokeDash":[0.1,4.2],"strokeCap":"round","strokeWidth":2.6,"color":"#000"},"encoding":{"y":{"datum":4}}},
{"data":{"name":"eDots"},"mark":{"type":"point","shape":"circle","filled":true,"size":65,"opacity":1,"stroke":"#000","strokeWidth":1.2},
"encoding":{"x":{"field":"g","type":"nominal"},"xOffset":{"field":"j","type":"quantitative","scale":{"domain":[-1,1]}},"y":{"field":"v","type":"quantitative"},
"fill":{"field":"g","type":"nominal","scale":{"domain":["unvaccinated","MCMV.env","CD4"],"range":["#8c8c8c","#1b6a4a","#ffffff"]},"legend":null}}},
{"data":{"name":"eDots"},"transform":[{"filter":"datum.g == 'CD4'"}],"mark":{"type":"point","shape":"M-1,-0.3L1,-0.3L1,0.3L-1,0.3Z","filled":true,"size":65,"opacity":1,"color":"#1b6a4a","strokeWidth":0},
"encoding":{"x":{"field":"g","type":"nominal"},"xOffset":{"field":"j","type":"quantitative"},"y":{"field":"v","type":"quantitative"}}},
{"data":{"name":"eSig"},"transform":[{"filter":"datum.t == '*'"}],"mark":{"type":"text","fontSize":18,"fontWeight":"bold","baseline":"middle"},"encoding":{"x":{"field":"g","type":"nominal"},"y":{"field":"v","type":"quantitative"},"text":{"field":"t"}}},
{"data":{"name":"eSig"},"transform":[{"filter":"datum.t == '#'"}],"mark":{"type":"text","fontSize":12,"baseline":"middle"},"encoding":{"x":{"field":"g","type":"nominal"},"y":{"field":"v","type":"quantitative"},"text":{"field":"t"}}},
{"data":{"name":"labE"},"transform":[{"filter":"datum.l1b == ''"}],"mark":{"type":"text","angle":315,"align":"right","baseline":"top","fontSize":15,"dx":-8,"dy":4},"encoding":{"x":{"field":"g","type":"nominal"},"y":{"datum":2},"text":{"field":"l1r"}}},
{"data":{"name":"labE"},"transform":[{"filter":"datum.l1b != '' && datum.l2b == ''"}],"mark":{"type":"text","angle":315,"align":"right","baseline":"top","fontSize":15,"dx":-33.8,"dy":4},"encoding":{"x":{"field":"g","type":"nominal"},"y":{"datum":2},"text":{"field":"l1r"}}},
{"data":{"name":"labE"},"transform":[{"filter":"datum.l1b != '' && datum.l2b == ''"}],"mark":{"type":"text","angle":315,"align":"right","baseline":"top","fontSize":15,"fontWeight":"bold","dx":-8,"dy":4},"encoding":{"x":{"field":"g","type":"nominal"},"y":{"datum":2},"text":{"field":"l1b"}}},
{"data":{"name":"labE"},"transform":[{"filter":"datum.l2b != ''"}],"mark":{"type":"text","angle":315,"align":"right","baseline":"top","fontSize":15,"dx":-37,"dy":4},"encoding":{"x":{"field":"g","type":"nominal"},"y":{"datum":2},"text":{"field":"l1r"}}},
{"data":{"name":"labE"},"transform":[{"filter":"datum.l2b != ''"}],"mark":{"type":"text","angle":315,"align":"right","baseline":"top","fontSize":15,"fontWeight":"bold","dx":-11.2,"dy":4},"encoding":{"x":{"field":"g","type":"nominal"},"y":{"datum":2},"text":{"field":"l1b"}}},
{"data":{"name":"labE"},"transform":[{"filter":"datum.l2b != ''"}],"mark":{"type":"text","angle":315,"align":"right","baseline":"top","fontSize":15,"fontWeight":"bold","dx":-66.7,"dy":21},"encoding":{"x":{"field":"g","type":"nominal"},"y":{"datum":2},"text":{"field":"l2b"}}},
{"data":{"name":"labE"},"transform":[{"filter":"datum.l2b != ''"}],"mark":{"type":"text","angle":315,"align":"right","baseline":"top","fontSize":15,"dx":-5,"dy":21},"encoding":{"x":{"field":"g","type":"nominal"},"y":{"datum":2},"text":{"field":"l2r"}}}
]},
{"width":181,"height":180,"title":{"text":"F","dx":-1,"offset":3},
"layer":[
{"data":{"name":"fFit"},"transform":[{"filter":"datum.s != 'fit'"}],"mark":{"type":"line","interpolate":"monotone","strokeWidth":2,"color":"#a8a8a8"},
"encoding":{"x":{"field":"x","type":"quantitative","scale":{"type":"log","domain":[10,100000000],"nice":false},"axis":{"values":[10,100,1000,10000,100000,1000000,10000000,100000000],"labelExpr":"datum.value < 50 ? '' : '10' + ['⁰','¹','²','³','⁴','⁵','⁶','⁷','⁸'][round(log(datum.value)/LN10)]","title":"viremia [FFU/ml]","titleFontSize":17}},
"y":{"field":"y","type":"quantitative","scale":{"type":"log","base":2,"domain":[2,256],"nice":false},"axis":{"values":[4,8,16,32,64,128,256],"format":"d","title":"neutralizing antibody titer⁻¹","titlePadding":0}},
"detail":{"field":"s"}}},
{"data":{"name":"fFit"},"transform":[{"filter":"datum.s == 'fit'"}],"mark":{"type":"line","strokeWidth":2,"color":"#000"},
"encoding":{"x":{"field":"x","type":"quantitative"},"y":{"field":"y","type":"quantitative"}}},
{"mark":{"type":"rule","strokeDash":[0.1,4.2],"strokeCap":"round","strokeWidth":2.6,"color":"#000"},"encoding":{"y":{"datum":4}}},
{"mark":{"type":"rule","strokeDash":[0.1,4.2],"strokeCap":"round","strokeWidth":2.6,"color":"#000"},"encoding":{"x":{"datum":230}}},
{"data":{"name":"fDots"},"mark":{"type":"point","shape":"circle","filled":true,"size":65,"opacity":1,"fill":"#fff","stroke":"#000","strokeWidth":1.2},
"encoding":{"x":{"field":"x","type":"quantitative"},"y":{"field":"y","type":"quantitative"}}},
{"data":{"name":"fDots"},"mark":{"type":"point","shape":"M-1,-0.3L1,-0.3L1,0.3L-1,0.3Z","filled":true,"size":65,"opacity":1,"color":"#1b6a4a","strokeWidth":0},
"encoding":{"x":{"field":"x","type":"quantitative"},"y":{"field":"y","type":"quantitative"}}},
{"data":{"name":"fR"},"mark":{"type":"text","fontSize":16,"baseline":"middle","align":"center"},"encoding":{"x":{"field":"x","type":"quantitative"},"y":{"field":"y","type":"quantitative"},"text":{"field":"t"}}}
]}
]}
]}
]
}
